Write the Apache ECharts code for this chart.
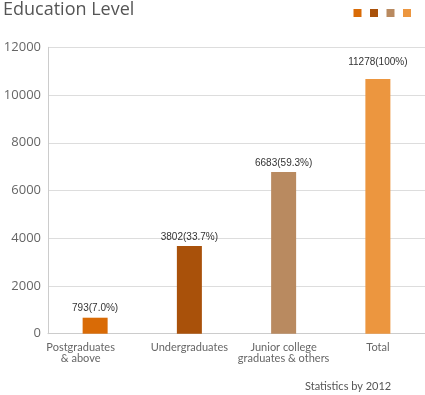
<!DOCTYPE html>
<html>
<head>
<meta charset="utf-8">
<script src="https://cdn.jsdelivr.net/npm/echarts@6/dist/echarts.min.js"></script>
<style>
html,body{margin:0;padding:0;background:#fff;}
#chart{width:425px;height:395px;}
</style>
</head>
<body>
<div id="chart"></div>
<script>
var categories = ['Postgraduates\n& above', 'Undergraduates', 'Junior college\ngraduates & others', 'Total'];
var seriesNames = ['Postgraduates & above', 'Undergraduates', 'Junior college graduates & others', 'Total'];
var barValues = [670, 3670, 6770, 10670];
var barLabels = ['793(7.0%)', '3802(33.7%)', '6683(59.3%)', '11278(100%)'];
var colors = ['#d96b06', '#a9510a', '#b98a60', '#ec963f'];
var yTicks = [0, 2000, 4000, 6000, 8000, 10000, 12000];

var chart = echarts.init(document.getElementById('chart'), null, {renderer: 'canvas'});

var series = seriesNames.map(function (name, i) {
  var data = categories.map(function (c, j) {
    if (j !== i) return '-';
    return {
      value: barValues[j],
      label: {formatter: barLabels[j], distance: j === 3 ? 12 : 4}
    };
  });
  return {
    name: name,
    type: 'bar',
    stack: 'all',
    barWidth: 25,
    itemStyle: {color: colors[i]},
    label: {
      show: true,
      position: 'top',
      fontFamily: 'Liberation Sans, Arial, sans-serif',
      fontSize: 10,
      color: '#333'
    },
    data: data
  };
});

chart.setOption({
  animation: false,
  backgroundColor: '#fff',
  title: [{
    text: 'Education Level',
    left: -2,
    top: -4,
    textStyle: {fontFamily: 'Open Sans', fontSize: 18, fontWeight: 'normal', color: '#555'}
  }, {
    text: 'Statistics by 2012',
    left: 300,
    top: 376,
    textStyle: {fontFamily: 'Lato', fontSize: 11, fontWeight: 'normal', color: '#555'}
  }],
  legend: {
    right: 9,
    top: 4,
    itemWidth: 8,
    itemHeight: 8,
    itemGap: 8.5,
    icon: 'rect',
    formatter: function () { return ''; },
    data: seriesNames
  },
  grid: {left: 48, right: 0, top: 47.3, bottom: 61.3, containLabel: false},
  xAxis: {
    type: 'category',
    data: categories.map(function (c, j) {
      return j === 0 ? {value: c, textStyle: {padding: [0, 29, 0, 0]}} : c;
    }),
    axisLine: {lineStyle: {color: '#ccc'}},
    axisTick: {show: false},
    axisLabel: {
      interval: 0,
      margin: 8,
      fontFamily: 'Lato',
      fontSize: 11,
      lineHeight: 11,
      color: '#666'
    }
  },
  yAxis: {
    type: 'value',
    min: yTicks[0],
    max: yTicks[yTicks.length - 1],
    interval: 2000,
    axisLine: {show: true, lineStyle: {color: '#ccc'}},
    axisTick: {show: false},
    splitLine: {lineStyle: {color: '#ddd'}},
    axisLabel: {
      margin: 7,
      fontFamily: 'Open Sans',
      fontSize: 13,
      color: '#666',
      formatter: function (v) { return String(v); }
    }
  },
  series: series
});
</script>
</body>
</html>
